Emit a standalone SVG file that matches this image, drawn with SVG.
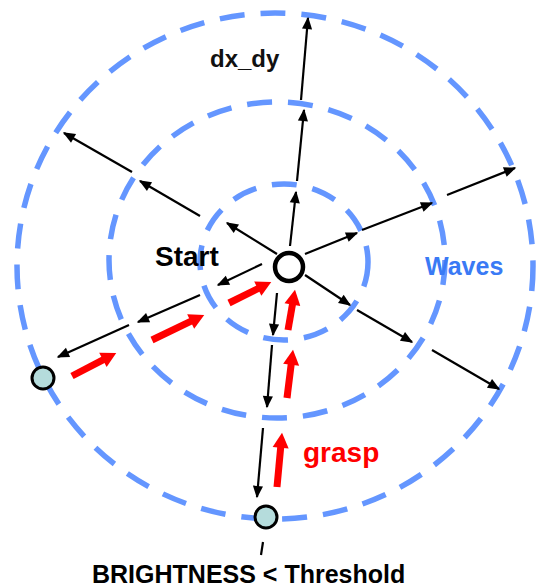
<svg xmlns="http://www.w3.org/2000/svg" width="537" height="588" viewBox="0 0 537 588">
<defs>
<style>
.wave{fill:none;stroke:#6496ff;stroke-width:5.5;stroke-dasharray:25 16}
.blk{stroke:#000;stroke-width:2.2;fill:none;marker-end:url(#ah)}
.red{stroke:#ff0000;stroke-width:7;fill:none;marker-end:url(#rh)}
.t{font-family:"Liberation Sans",Arial,sans-serif}
.node{fill:#b5dcdc;stroke:#000;stroke-width:3}
</style>
<marker id="ah" markerUnits="strokeWidth" markerWidth="5.6" markerHeight="4.6" refX="5" refY="2.3" orient="auto" overflow="visible">
<path d="M0,0 L5.6,2.3 L0,4.6 z" fill="#000"/>
</marker>
<marker id="rh" markerUnits="strokeWidth" markerWidth="2.15" markerHeight="2.3" refX="0.4" refY="1.15" orient="auto" overflow="visible">
<path d="M0,0 L2.15,1.15 L0,2.3 z" fill="#ff0000"/>
</marker>
</defs>
<rect width="537" height="588" fill="#fff"/>
<g id="waves">
<ellipse class="wave" cx="275" cy="266" rx="258" ry="253"/>
<ellipse class="wave" cx="277" cy="260" rx="168" ry="158"/>
<ellipse class="wave" cx="284" cy="262" rx="84" ry="78"/>
</g>
<g id="connectors">
<line class="blk" x1="290" y1="246" x2="296" y2="192"/>
<line class="blk" x1="297" y1="181" x2="304" y2="110"/>
<line class="blk" x1="301" y1="100" x2="308" y2="18"/>
<line class="blk" x1="277" y1="254" x2="227" y2="223"/>
<line class="blk" x1="200" y1="216" x2="140" y2="181"/>
<line class="blk" x1="132" y1="172" x2="64" y2="133"/>
<line class="blk" x1="305" y1="254" x2="357" y2="233"/>
<line class="blk" x1="362" y1="230" x2="432" y2="203"/>
<line class="blk" x1="447" y1="195" x2="515" y2="168"/>
<line class="blk" x1="305" y1="275" x2="350" y2="305"/>
<line class="blk" x1="357" y1="310" x2="412" y2="342"/>
<line class="blk" x1="432" y1="350" x2="499" y2="389"/>
<line class="blk" x1="262" y1="264" x2="218" y2="285"/>
<line class="blk" x1="200" y1="295" x2="138" y2="322"/>
<line class="blk" x1="129" y1="325" x2="58" y2="357"/>
<line class="blk" x1="277" y1="293" x2="273" y2="335"/>
<line class="blk" x1="272" y1="345" x2="267" y2="407"/>
<line class="blk" x1="263" y1="428" x2="257" y2="497"/>
<line x1="263" y1="542" x2="261" y2="555" stroke="#000" stroke-width="2.2"/>
<line class="red" x1="72" y1="376" x2="105.4" y2="358.6"/>
<line class="red" x1="152" y1="340" x2="193.2" y2="320.2"/>
<line class="red" x1="229" y1="303" x2="260.3" y2="287.4"/>
<line class="red" x1="288" y1="330" x2="292.9" y2="301.8"/>
<line class="red" x1="287" y1="398" x2="291.5" y2="361.9"/>
<line class="red" x1="277" y1="487" x2="280.9" y2="445"/>
</g>
<g id="start">
<circle cx="289" cy="267" r="14" fill="#fff" stroke="#000" stroke-width="4.5"/>
<text class="t" x="155" y="266" font-size="28" font-weight="bold" fill="#000">Start</text>
</g>
<g id="left-node"><circle class="node" cx="43" cy="378" r="11"/></g>
<g id="bottom-node"><circle class="node" cx="266" cy="517" r="11"/></g>
<g id="labels">
<text class="t" x="210" y="67" font-size="24" font-weight="bold" fill="#111">dx_dy</text>
<text class="t" x="425" y="275" font-size="25" font-weight="bold" fill="#3a7af5">Waves</text>
<text class="t" x="303" y="462" font-size="28" font-weight="bold" fill="#ff0000">grasp</text>
<text class="t" x="92" y="583" font-size="25" font-weight="bold" fill="#000">BRIGHTNESS &lt; Threshold</text>
</g>
</svg>
